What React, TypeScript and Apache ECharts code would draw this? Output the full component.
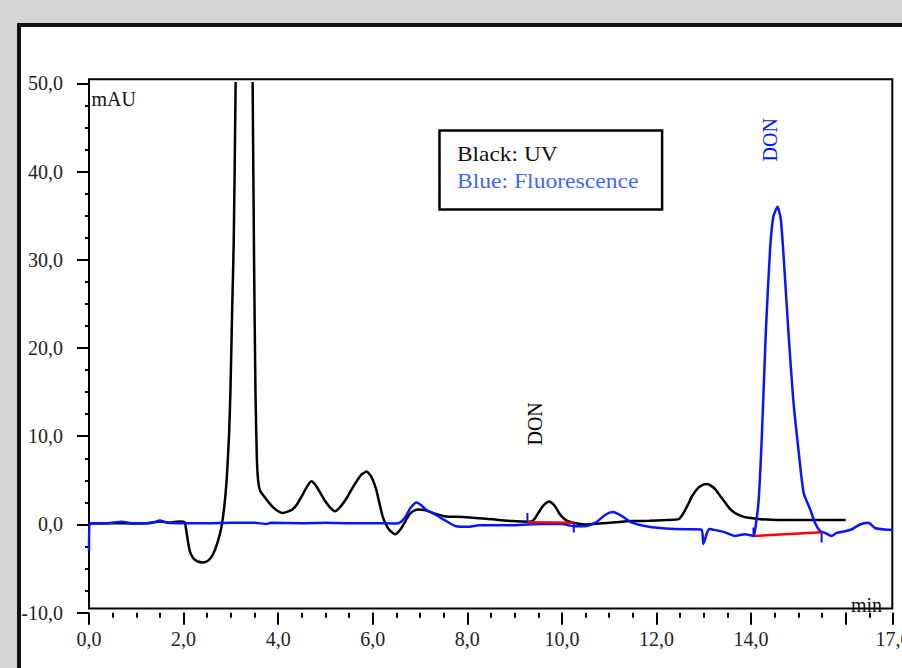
import React, { useEffect, useRef } from "react";
import * as echarts from "echarts";

// UV trace (black): [time in min, signal in mAU]; main peak goes off-scale
const uvTrace: [number, number][] = [
  [0, 0.1], [0.5, 0.15], [1.0, 0.1], [1.3, 0.2], [1.5, 0.35], [1.7, 0.2], [1.9, 0.35], [2.0, 0.3],
  [2.03, 0.2], [2.08, -1.5], [2.13, -3.0], [2.2, -3.8], [2.3, -4.2], [2.42, -4.3], [2.52, -4.1],
  [2.62, -3.4], [2.72, -2.0], [2.8, -0.3], [2.86, 2.0], [2.91, 5], [2.96, 10], [2.99, 15],
  [3.03, 25], [3.06, 32], [3.1, 50], [3.18, 110], [3.28, 150], [3.38, 110], [3.46, 50],
  [3.49, 30], [3.52, 15], [3.55, 7.4], [3.58, 4.8], [3.62, 3.8], [3.7, 3.2], [3.8, 2.5],
  [3.9, 1.9], [4.0, 1.5], [4.1, 1.3], [4.2, 1.45], [4.3, 1.7], [4.4, 2.3], [4.5, 3.2],
  [4.6, 4.2], [4.7, 4.9], [4.8, 4.4], [4.9, 3.5], [5.0, 2.6], [5.1, 1.9], [5.2, 1.5],
  [5.3, 1.9], [5.45, 3.0], [5.6, 4.4], [5.75, 5.6], [5.87, 6.0], [5.97, 5.4], [6.07, 4.0],
  [6.15, 2.2], [6.21, 0.9], [6.28, 0.0], [6.35, -0.6], [6.48, -1.1], [6.58, -0.6], [6.66, 0.1],
  [6.77, 1.1], [6.85, 1.5], [6.95, 1.7], [7.12, 1.6], [7.33, 1.2], [7.55, 0.9], [7.9, 0.85],
  [8.4, 0.65], [8.95, 0.38], [9.3, 0.3], [9.4, 0.5], [9.5, 1.3], [9.6, 2.1], [9.73, 2.6],
  [9.85, 2.1], [9.95, 1.2], [10.08, 0.5], [10.2, 0.25], [10.5, 0.0], [10.78, 0.1], [11.13, 0.25],
  [11.48, 0.38], [11.84, 0.42], [12.2, 0.5], [12.47, 0.6], [12.57, 1.3], [12.67, 2.3],
  [12.75, 3.2], [12.89, 4.2], [13.0, 4.55], [13.07, 4.6], [13.15, 4.4], [13.24, 4.0],
  [13.35, 3.2], [13.45, 2.5], [13.55, 1.8], [13.66, 1.3], [13.8, 0.95], [13.95, 0.76],
  [14.2, 0.6], [14.6, 0.5], [15.0, 0.5], [15.5, 0.5], [16.0, 0.5],
];

// Fluorescence trace (blue)
const flTrace: [number, number][] = [
  [0, -3.0], [0.02, 0.1], [0.4, 0.15], [0.7, 0.3], [0.9, 0.15], [1.3, 0.15], [1.5, 0.45],
  [1.65, 0.2], [2.0, 0.15], [2.5, 0.15], [3.0, 0.2], [3.5, 0.2], [3.75, 0.05], [3.85, 0.2],
  [4.5, 0.15], [5.0, 0.2], [5.5, 0.15], [6.0, 0.15], [6.5, 0.1], [6.6, 0.3], [6.7, 0.94],
  [6.8, 1.9], [6.93, 2.5], [7.02, 2.2], [7.12, 1.7], [7.33, 1.1], [7.55, 0.4], [7.76, -0.2],
  [8.04, -0.27], [8.25, -0.1], [8.6, -0.1], [8.95, -0.1], [9.27, 0.0], [9.6, 0.05], [10.0, 0.05],
  [10.25, -0.2], [10.5, -0.2], [10.71, 0.2], [10.92, 1.1], [11.08, 1.4], [11.27, 0.94],
  [11.48, 0.2], [11.84, -0.27], [12.19, -0.45], [12.6, -0.55], [12.95, -0.57], [12.99, -2.2],
  [13.07, -0.9], [13.12, -0.5], [13.18, -0.57], [13.3, -0.7], [13.45, -0.9], [13.66, -1.3],
  [13.87, -1.1], [14.05, -1.3], [14.1, 0.0], [14.16, 2.8], [14.23, 10.4], [14.31, 21.7],
  [14.4, 31.1], [14.47, 34.9], [14.56, 36.0], [14.63, 34.5], [14.7, 29.3], [14.79, 21.7],
  [14.89, 14.2], [15.0, 8.5], [15.11, 3.6], [15.25, 1.7], [15.35, 0.2], [15.46, -0.76],
  [15.56, -0.95], [15.7, -1.3], [15.81, -0.95], [15.98, -0.76], [16.12, -0.57], [16.3, 0.0],
  [16.48, 0.2], [16.62, -0.4], [16.83, -0.57], [17.0, -0.6],
];

// Integration baselines (red): [t0, v0, t1, v1]
const integrationBaselines: [number, number, number, number][] = [
  [9.28, 0.26, 10.25, 0.19],
  [14.05, -1.32, 15.49, -0.87],
];

// Peak start/end markers (short blue ticks)
const markerTimes = [9.27, 10.25, 14.05, 15.49];
const markerFrom = [0.2, 0.15, -1.35, -0.87];
const markerTo = [1.3, -0.9, -0.35, -2.05];

// Peak annotations
const peakLabelNames = ["DON", "DON"];
const peakLabelTimes = [9.43, 14.4];
const peakLabelValues = [11.4, 43.6];
const peakLabelColors = ["#000000", "#0a14ff"];

const legendLines = ["Black: UV", "Blue: Fluorescence"];

export default function App() {
  const ref = useRef<HTMLDivElement>(null);
  useEffect(() => {
    const chart = echarts.init(ref.current!, null, { renderer: "svg" });
    const serif = "Liberation Serif";
    const fmt = (v: number) => v.toFixed(1).replace(".", ",");
    const BLUE = "#0a14ff";

    const series: any[] = [
      {
        type: "line",
        name: "UV",
        data: uvTrace,
        showSymbol: false,
        smooth: 0.2,
        lineStyle: { color: "#000", width: 2.5 },
        z: 3,
        markPoint: {
          symbol: "rect",
          symbolSize: 1,
          itemStyle: { color: "rgba(0,0,0,0)" },
          data: [
            {
              coord: [peakLabelTimes[0], peakLabelValues[0]],
              label: {
                show: true,
                formatter: peakLabelNames[0],
                rotate: 90,
                position: "inside",
                color: peakLabelColors[0],
                fontFamily: serif,
                fontSize: 20,
              },
            },
          ],
        },
      },
      {
        type: "line",
        name: "Fluorescence",
        data: flTrace,
        showSymbol: false,
        smooth: 0.2,
        lineStyle: { color: BLUE, width: 2.5 },
        z: 4,
        markPoint: {
          symbol: "rect",
          symbolSize: 1,
          itemStyle: { color: "rgba(0,0,0,0)" },
          data: [
            {
              coord: [peakLabelTimes[1], peakLabelValues[1]],
              label: {
                show: true,
                formatter: peakLabelNames[1],
                rotate: 90,
                position: "inside",
                color: peakLabelColors[1],
                fontFamily: serif,
                fontSize: 20,
              },
            },
          ],
        },
      },
    ];
    integrationBaselines.forEach((b) => {
      series.push({
        type: "line",
        data: [[b[0], b[1]], [b[2], b[3]]],
        showSymbol: false,
        lineStyle: { color: "#ff0000", width: 2.5 },
        z: 5,
      });
    });
    markerTimes.forEach((t, i) => {
      series.push({
        type: "line",
        data: [[t, markerFrom[i]], [t, markerTo[i]]],
        showSymbol: false,
        lineStyle: { color: BLUE, width: 2 },
        z: 6,
      });
    });

    const option: any = {
      animation: false,
      backgroundColor: "#d4d4d4",
      grid: {
        left: 89,
        right: 9,
        top: 83.3,
        bottom: 55.3,
        containLabel: false,
        outerBoundsMode: "none",
      },
      xAxis: [
        {
          type: "value",
          min: 0,
          max: 17,
          interval: 2,
          position: "bottom",
          axisLine: { show: false, onZero: false },
          axisTick: { show: true, length: 12, lineStyle: { color: "#000", width: 2 } },
          splitLine: { show: false },
          axisLabel: {
            margin: 16,
            color: "#222",
            fontFamily: serif,
            fontSize: 20,
            showMaxLabel: true,
            showMinLabel: true,
            formatter: (v: number) => (v === 16 ? "" : fmt(v)),
          },
        },
        {
          type: "value",
          min: 0,
          max: 17,
          interval: 0.5,
          position: "bottom",
          axisLine: { show: false, onZero: false },
          axisTick: { show: true, length: 5, lineStyle: { color: "#000", width: 2 } },
          splitLine: { show: false },
          axisLabel: { show: false },
        },
      ],
      yAxis: {
        type: "value",
        min: -10,
        max: 50,
        interval: 10,
        axisLine: { show: false, onZero: false },
        axisTick: { show: true, length: 12, lineStyle: { color: "#000", width: 2 } },
        minorTick: { show: true, splitNumber: 4, length: 4, lineStyle: { color: "#000", width: 2 } },
        splitLine: { show: false },
        minorSplitLine: { show: false },
        axisLabel: {
          margin: 26,
          color: "#222",
          fontFamily: serif,
          fontSize: 20,
          formatter: (v: number) => fmt(v),
        },
      },
      graphic: [
        {
          type: "rect",
          z: -10,
          shape: { x: 19, y: 25, width: 900, height: 660 },
          style: { fill: "#ffffff", stroke: "#111", lineWidth: 4 },
        },
        {
          type: "rect",
          z: 1,
          shape: { x: 89, y: 79.3, width: 803.3, height: 529.2 },
          style: { fill: "none", stroke: "#000", lineWidth: 2 },
        },
        {
          type: "text",
          z: 10,
          x: 91.5,
          y: 99,
          style: { text: "mAU", fill: "#111", font: `20px "${serif}"`, verticalAlign: "middle", align: "left" },
        },
        {
          type: "text",
          z: 10,
          x: 866.5,
          y: 604.8,
          style: { text: "min", fill: "#111", font: `20px "${serif}"`, verticalAlign: "middle", align: "center" },
        },
        {
          type: "rect",
          z: 10,
          shape: { x: 439.5, y: 130.5, width: 222.6, height: 79 },
          style: { fill: "#ffffff", stroke: "#000", lineWidth: 2.5 },
        },
        {
          type: "text",
          z: 11,
          x: 457,
          y: 154.2,
          scaleX: 1.17,
          style: { text: legendLines[0], fill: "#111", font: `20px "${serif}"`, verticalAlign: "middle", align: "left" },
        },
        {
          type: "text",
          z: 11,
          x: 457,
          y: 181.5,
          scaleX: 1.18,
          style: { text: legendLines[1], fill: "#3f67f5", font: `20px "${serif}"`, verticalAlign: "middle", align: "left" },
        },
      ],
      series,
    };
    chart.setOption(option);
    return () => chart.dispose();
  }, []);
  return (
    <div
      ref={ref}
      style={{ position: "absolute", left: 0, top: 0, width: 902, height: 668 }}
    />
  );
}
